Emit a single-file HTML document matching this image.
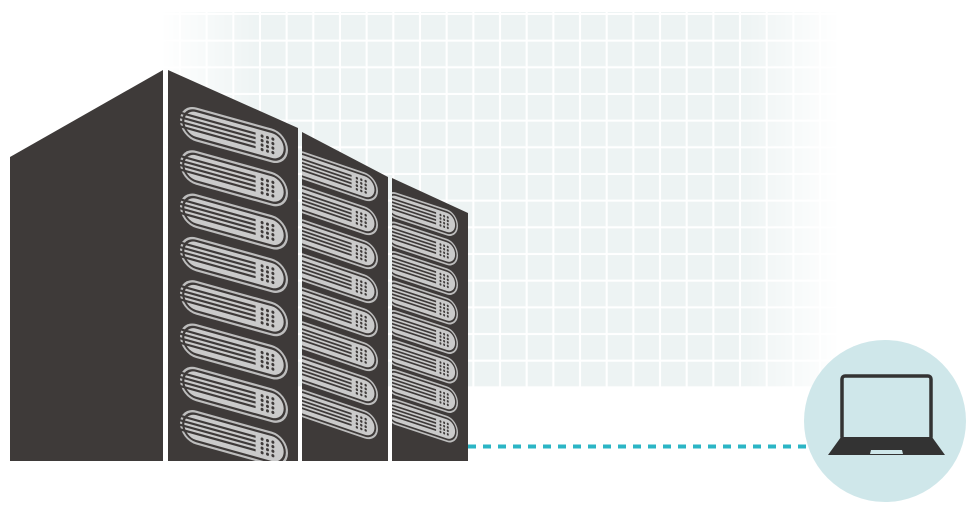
<!DOCTYPE html>
<html><head><meta charset="utf-8"><style>html,body{margin:0;padding:0;background:#fff}svg{display:block}</style></head>
<body>
<svg width="980" height="511" viewBox="0 0 980 511" xmlns="http://www.w3.org/2000/svg">
<defs>
<pattern id="grid" x="180" y="14" width="26.67" height="26.67" patternUnits="userSpaceOnUse">
<rect x="0" y="0" width="26.67" height="26.67" fill="#fff"/>
<rect x="1" y="1" width="24.6" height="24.6" fill="#edf3f3"/>
</pattern>
<linearGradient id="fade" x1="0" x2="1" y1="0" y2="0">
<stop offset="0" stop-color="#fff" stop-opacity="0"/>
<stop offset="0.15" stop-color="#fff" stop-opacity="1"/>
<stop offset="0.85" stop-color="#fff" stop-opacity="1"/>
<stop offset="1" stop-color="#fff" stop-opacity="0"/>
</linearGradient>
<mask id="m"><rect x="160" y="12" width="680" height="376" fill="url(#fade)"/></mask>
<g id="pill">
<rect x="0" y="-15" width="100" height="30" rx="15" fill="#bdbdbd"/>
<rect x="2" y="-13" width="96" height="26" rx="13" fill="#3e3a39"/>
<rect x="4" y="-11" width="92" height="22" rx="11" fill="#cacaca"/>
<rect x="0" y="-7.5" width="70" height="2" fill="#3e3a39"/>
<rect x="0" y="-3.5" width="70" height="2" fill="#3e3a39"/>
<rect x="0" y="0.5" width="70" height="2" fill="#3e3a39"/>
<rect x="0" y="4.5" width="70" height="2" fill="#3e3a39"/>
<g fill="#3e3a39">
<circle cx="76" cy="-6" r="1.4"/><circle cx="81" cy="-6" r="1.4"/><circle cx="86" cy="-6" r="1.4"/>
<circle cx="76" cy="-2" r="1.4"/><circle cx="81" cy="-2" r="1.4"/><circle cx="86" cy="-2" r="1.4"/>
<circle cx="76" cy="2" r="1.4"/><circle cx="81" cy="2" r="1.4"/><circle cx="86" cy="2" r="1.4"/>
<circle cx="76" cy="6" r="1.4"/><circle cx="81" cy="6" r="1.4"/><circle cx="86" cy="6" r="1.4"/>
</g>
</g>
<clipPath id="c2"><polygon points="168,70 298,128 298,461 168,461"/></clipPath>
<clipPath id="c3"><polygon points="302,132 388,177 388,461 302,461"/></clipPath>
<clipPath id="c4"><polygon points="392,178 468,213 468,461 392,461"/></clipPath>
</defs>

<rect x="160" y="12" width="680" height="376" fill="url(#grid)" mask="url(#m)"/>

<!-- dashed connector -->
<line x1="468" y1="446.5" x2="832" y2="446.5" stroke="#2bb5c5" stroke-width="4" stroke-dasharray="8 7"/>

<!-- laptop circle -->
<circle cx="885" cy="421" r="81" fill="#cfe7ea"/>
<rect x="842" y="376" width="89" height="64" rx="3" fill="none" stroke="#333" stroke-width="3.5"/>
<polygon points="841,437 932,437 945,455 828,455" fill="#333"/>
<polygon points="871,450 902,450 903,454 870,454" fill="#cfe7ea"/>

<!-- servers -->
<polygon points="10,157 163,70 163,461 10,461" fill="#3e3a39"/>
<polygon points="168,70 298,128 298,461 168,461" fill="#3e3a39"/>
<polygon points="302,132 388,177 388,461 302,461" fill="#3e3a39"/>
<polygon points="392,178 468,213 468,461 392,461" fill="#3e3a39"/>

<g clip-path="url(#c2)">
<use href="#pill" transform="matrix(1.08,0.3,0,1.13,180,120)"/>
<use href="#pill" transform="matrix(1.08,0.3,0,1.13,180,163.3)"/>
<use href="#pill" transform="matrix(1.08,0.3,0,1.13,180,206.6)"/>
<use href="#pill" transform="matrix(1.08,0.3,0,1.13,180,249.9)"/>
<use href="#pill" transform="matrix(1.08,0.3,0,1.13,180,293.2)"/>
<use href="#pill" transform="matrix(1.08,0.3,0,1.13,180,336.5)"/>
<use href="#pill" transform="matrix(1.08,0.3,0,1.13,180,379.8)"/>
<use href="#pill" transform="matrix(1.08,0.3,0,1.13,180,423.1)"/>
</g>
<g clip-path="url(#c3)">
<use href="#pill" transform="matrix(0.88,0.3,0,0.93,290,161)"/>
<use href="#pill" transform="matrix(0.88,0.3,0,0.93,290,195)"/>
<use href="#pill" transform="matrix(0.88,0.3,0,0.93,290,229)"/>
<use href="#pill" transform="matrix(0.88,0.3,0,0.93,290,263)"/>
<use href="#pill" transform="matrix(0.88,0.3,0,0.93,290,297)"/>
<use href="#pill" transform="matrix(0.88,0.3,0,0.93,290,331)"/>
<use href="#pill" transform="matrix(0.88,0.3,0,0.93,290,365)"/>
<use href="#pill" transform="matrix(0.88,0.3,0,0.93,290,399)"/>
</g>
<g clip-path="url(#c4)">
<use href="#pill" transform="matrix(0.73,0.24,0,0.87,385,202)"/>
<use href="#pill" transform="matrix(0.73,0.24,0,0.87,385,231.5)"/>
<use href="#pill" transform="matrix(0.73,0.24,0,0.87,385,261)"/>
<use href="#pill" transform="matrix(0.73,0.24,0,0.87,385,290.5)"/>
<use href="#pill" transform="matrix(0.73,0.24,0,0.87,385,320)"/>
<use href="#pill" transform="matrix(0.73,0.24,0,0.87,385,349.5)"/>
<use href="#pill" transform="matrix(0.73,0.24,0,0.87,385,379)"/>
<use href="#pill" transform="matrix(0.73,0.24,0,0.87,385,408.5)"/>
</g>
</svg>
</body></html>
